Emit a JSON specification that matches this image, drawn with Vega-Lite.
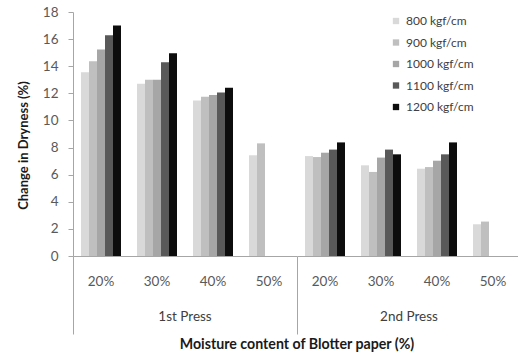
{
  "$schema": "https://vega.github.io/schema/vega-lite/v6.json",
  "padding": {"left": 17, "top": 5, "right": 0, "bottom": 0},
  "background": "white",
  "data": {"values": [
    {"press": "1st Press", "moisture": "20%", "pressure": "800 kgf/cm", "value": 13.55},
    {"press": "1st Press", "moisture": "20%", "pressure": "900 kgf/cm", "value": 14.36},
    {"press": "1st Press", "moisture": "20%", "pressure": "1000 kgf/cm", "value": 15.24},
    {"press": "1st Press", "moisture": "20%", "pressure": "1100 kgf/cm", "value": 16.28},
    {"press": "1st Press", "moisture": "20%", "pressure": "1200 kgf/cm", "value": 17.0},
    {"press": "1st Press", "moisture": "30%", "pressure": "800 kgf/cm", "value": 12.71},
    {"press": "1st Press", "moisture": "30%", "pressure": "900 kgf/cm", "value": 13.0},
    {"press": "1st Press", "moisture": "30%", "pressure": "1000 kgf/cm", "value": 13.0},
    {"press": "1st Press", "moisture": "30%", "pressure": "1100 kgf/cm", "value": 14.3},
    {"press": "1st Press", "moisture": "30%", "pressure": "1200 kgf/cm", "value": 14.95},
    {"press": "1st Press", "moisture": "40%", "pressure": "800 kgf/cm", "value": 11.48},
    {"press": "1st Press", "moisture": "40%", "pressure": "900 kgf/cm", "value": 11.75},
    {"press": "1st Press", "moisture": "40%", "pressure": "1000 kgf/cm", "value": 11.87},
    {"press": "1st Press", "moisture": "40%", "pressure": "1100 kgf/cm", "value": 12.07},
    {"press": "1st Press", "moisture": "40%", "pressure": "1200 kgf/cm", "value": 12.42},
    {"press": "1st Press", "moisture": "50%", "pressure": "800 kgf/cm", "value": 7.43},
    {"press": "1st Press", "moisture": "50%", "pressure": "900 kgf/cm", "value": 8.31},
    {"press": "2nd Press", "moisture": "20%", "pressure": "800 kgf/cm", "value": 7.37},
    {"press": "2nd Press", "moisture": "20%", "pressure": "900 kgf/cm", "value": 7.3},
    {"press": "2nd Press", "moisture": "20%", "pressure": "1000 kgf/cm", "value": 7.62},
    {"press": "2nd Press", "moisture": "20%", "pressure": "1100 kgf/cm", "value": 7.85},
    {"press": "2nd Press", "moisture": "20%", "pressure": "1200 kgf/cm", "value": 8.38},
    {"press": "2nd Press", "moisture": "30%", "pressure": "800 kgf/cm", "value": 6.69},
    {"press": "2nd Press", "moisture": "30%", "pressure": "900 kgf/cm", "value": 6.2},
    {"press": "2nd Press", "moisture": "30%", "pressure": "1000 kgf/cm", "value": 7.26},
    {"press": "2nd Press", "moisture": "30%", "pressure": "1100 kgf/cm", "value": 7.85},
    {"press": "2nd Press", "moisture": "30%", "pressure": "1200 kgf/cm", "value": 7.5},
    {"press": "2nd Press", "moisture": "40%", "pressure": "800 kgf/cm", "value": 6.44},
    {"press": "2nd Press", "moisture": "40%", "pressure": "900 kgf/cm", "value": 6.56},
    {"press": "2nd Press", "moisture": "40%", "pressure": "1000 kgf/cm", "value": 7.03},
    {"press": "2nd Press", "moisture": "40%", "pressure": "1100 kgf/cm", "value": 7.5},
    {"press": "2nd Press", "moisture": "40%", "pressure": "1200 kgf/cm", "value": 8.38},
    {"press": "2nd Press", "moisture": "50%", "pressure": "800 kgf/cm", "value": 2.34},
    {"press": "2nd Press", "moisture": "50%", "pressure": "900 kgf/cm", "value": 2.54}
  ]},
  "facet": {
    "column": {
      "field": "press", "type": "nominal", "sort": ["1st Press", "2nd Press"],
      "title": "Moisture content of Blotter paper (%)",
      "header": {
        "labelOrient": "bottom", "titleOrient": "bottom",
        "labelFont": "Lato", "labelFontSize": 13.5, "labelColor": "#404040", "labelPadding": -25,
        "titleFont": "Lato", "titleFontSize": 14.2, "titleFontWeight": "bold", "titleColor": "#1a1a1a", "titlePadding": -7
      }
    }
  },
  "spacing": 0,
  "spec": {
    "width": 224,
    "height": 244,
    "mark": {"type": "bar"},
    "encoding": {
      "x": {
        "field": "moisture", "type": "nominal", "sort": ["20%", "30%", "40%", "50%"],
        "scale": {"paddingInner": 0, "paddingOuter": 0},
        "axis": {
          "title": null, "labelAngle": 0, "bandPosition": 0,
          "tickSize": 78, "tickColor": "#a6a6a6",
          "tickOpacity": {"condition": {"test": "datum.value === '20%'", "value": 1}, "value": 0},
          "labelPadding": -60, "labelFont": "Lato", "labelFontSize": 13.5, "labelColor": "#595959",
          "domainColor": "#a6a6a6"
        }
      },
      "xOffset": {
        "field": "pressure", "type": "nominal",
        "sort": ["800 kgf/cm", "900 kgf/cm", "1000 kgf/cm", "1100 kgf/cm", "1200 kgf/cm"],
        "scale": {"paddingInner": 0, "paddingOuter": 1.5}
      },
      "y": {
        "field": "value", "type": "quantitative",
        "scale": {"domain": [0, 18], "nice": false},
        "axis": {
          "values": [0, 2, 4, 6, 8, 10, 12, 14, 16, 18], "grid": false,
          "title": "Change in Dryness (%)", "titleFont": "Lato", "titleFontWeight": "bold", "titleFontSize": 13,
          "titleColor": "#1a1a1a", "titlePadding": 12, "titleY": 133,
          "labelFont": "Lato", "labelColor": "#595959", "labelFontSize": 13.5, "labelPadding": 10,
          "tickSize": 5, "tickColor": "#a6a6a6", "domainColor": "#a6a6a6"
        }
      },
      "color": {
        "field": "pressure", "type": "nominal",
        "sort": ["800 kgf/cm", "900 kgf/cm", "1000 kgf/cm", "1100 kgf/cm", "1200 kgf/cm"],
        "scale": {"domain": ["800 kgf/cm", "900 kgf/cm", "1000 kgf/cm", "1100 kgf/cm", "1200 kgf/cm"],
                  "range": ["#d9d9d9", "#bfbfbf", "#a6a6a6", "#595959", "#0d0d0d"]},
        "legend": {
          "title": null, "orient": "none", "legendX": 317, "legendY": 3,
          "symbolType": "square", "symbolSize": 40, "symbolStrokeWidth": 0,
          "labelFont": "Lato", "labelFontSize": 12, "labelColor": "#404040",
          "rowPadding": 9.5, "labelOffset": 4
        }
      }
    }
  },
  "config": {"view": {"stroke": null}}
}
